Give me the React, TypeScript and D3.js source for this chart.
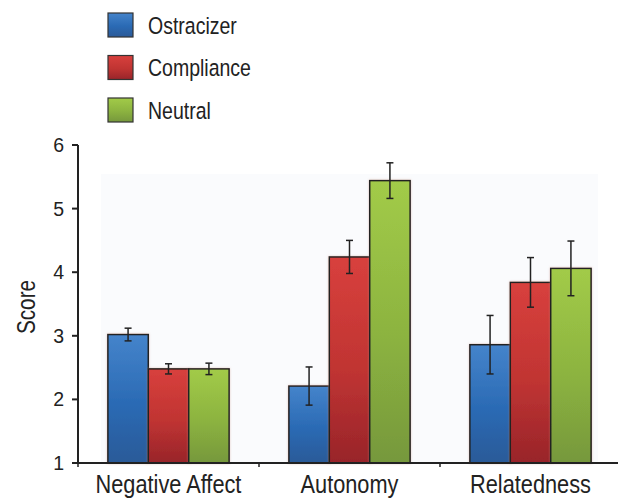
import React from "react";
import * as d3 from "d3";

const categories = ["Negative Affect", "Autonomy", "Relatedness"];
const seriesNames = ["Ostracizer", "Compliance", "Neutral"];
// means per series, one value per category
const ostracizer = [3.02, 2.21, 2.86];
const compliance = [2.48, 4.24, 3.84];
const neutral = [2.48, 5.44, 4.06];
// standard errors
const ostracizerErr = [0.1, 0.3, 0.46];
const complianceErr = [0.08, 0.26, 0.39];
const neutralErr = [0.09, 0.28, 0.43];
const yTicks = [1, 2, 3, 4, 5, 6];

const means = [ostracizer, compliance, neutral];
const errs = [ostracizerErr, complianceErr, neutralErr];

const gradients = [
  ["#4584cb", "#2a6ab4", "#2b5a98"],
  ["#d8403d", "#c03432", "#98242a"],
  ["#a2cb48", "#8cb340", "#76983c"],
];

const W = 618;
const H = 499;
const font = "'Liberation Sans', Arial, sans-serif";
const ink = "#222";

export default function App() {
  const x = d3.scaleBand<string>().domain(categories).range([78, 621]);
  const y = d3.scaleLinear().domain([1, 6]).range([463, 145]);
  const groupW = x.bandwidth() * 0.67;
  const inner = d3.scaleBand<string>().domain(seriesNames).range([0, groupW]);

  return (
    <svg
      width={W}
      height={H}
      style={{ position: "absolute", left: 0, top: 0, fontFamily: font }}
    >
      <defs>
        {gradients.map((g, i) => (
          <linearGradient key={i} id={`g${i}`} x1="0" y1="0" x2="0" y2="1">
            <stop offset="0%" stopColor={g[0]} />
            <stop offset="55%" stopColor={g[1]} />
            <stop offset="100%" stopColor={g[2]} />
          </linearGradient>
        ))}
        <filter id="glow" x="-10%" y="-10%" width="120%" height="120%">
          <feDropShadow dx="0" dy="0" stdDeviation="1.2" floodColor="#c89080" floodOpacity="0.5" />
        </filter>
      </defs>

      <rect x={101} y={174} width={497} height={y(1) - 174} fill="#fafbfd" />

      {/* legend */}
      {seriesNames.map((s, i) => (
        <g key={s} transform={`translate(108,${13 + i * 42.5})`}>
          <rect width={25} height={24} fill={`url(#g${i})`} stroke="#333" strokeWidth={1.2} />
          <text transform="translate(40,20.5) scale(0.83,1)" fontSize={23.5} fill={ink}>
            {s}
          </text>
        </g>
      ))}

      {/* bars */}
      {categories.map((c, ci) => {
        const x0 = x(c)! + (x.bandwidth() - groupW) / 2;
        return (
          <g key={c}>
            {seriesNames.map((s, si) => {
              const v = means[si][ci];
              return (
                <rect
                  key={s}
                  x={x0 + inner(s)!}
                  y={y(v)}
                  width={inner.bandwidth()}
                  height={y(1) - y(v)}
                  fill={`url(#g${si})`}
                  stroke={ink}
                  strokeWidth={1.5}
                  filter="url(#glow)"
                />
              );
            })}
            {seriesNames.map((s, si) => {
              const v = means[si][ci];
              const e = errs[si][ci];
              const cx = x0 + inner(s)! + inner.bandwidth() / 2;
              return (
                <g key={s} stroke={ink} strokeWidth={1.5}>
                  <line x1={cx} x2={cx} y1={y(v + e)} y2={y(v - e)} />
                  <line x1={cx - 3.5} x2={cx + 3.5} y1={y(v + e)} y2={y(v + e)} />
                  <line x1={cx - 3.5} x2={cx + 3.5} y1={y(v - e)} y2={y(v - e)} />
                </g>
              );
            })}
          </g>
        );
      })}

      {/* y axis */}
      <line x1={78} x2={78} y1={y(6)} y2={y(1)} stroke={ink} strokeWidth={2} />
      {yTicks.map((t) => (
        <g key={t} transform={`translate(78,${y(t)})`}>
          <line x1={-6} x2={0} stroke={ink} strokeWidth={2} />
          <text x={-14} dy="0.36em" textAnchor="end" fontSize={19.5} fill={ink}>
            {t}
          </text>
        </g>
      ))}
      <text
        transform={`translate(35,${(y(6) + y(1)) / 2 + 3}) rotate(-90) scale(0.83,1)`}
        textAnchor="middle"
        fontSize={25}
        fill={ink}
      >
        Score
      </text>

      {/* x axis */}
      <line x1={77} x2={W} y1={y(1)} y2={y(1)} stroke={ink} strokeWidth={2} />
      {categories.map((c, ci) => (
        <g key={c}>
          {ci > 0 && (
            <line x1={x(c)!} x2={x(c)!} y1={y(1)} y2={y(1) + 4} stroke={ink} strokeWidth={1.5} />
          )}
          <text
            transform={`translate(${x(c)! + x.bandwidth() / 2},493) scale(0.87,1)`}
            textAnchor="middle"
            fontSize={25}
            fill={ink}
          >
            {c}
          </text>
        </g>
      ))}
      <line x1={78} x2={78} y1={y(1)} y2={y(1) + 4} stroke={ink} strokeWidth={1.5} />
    </svg>
  );
}
